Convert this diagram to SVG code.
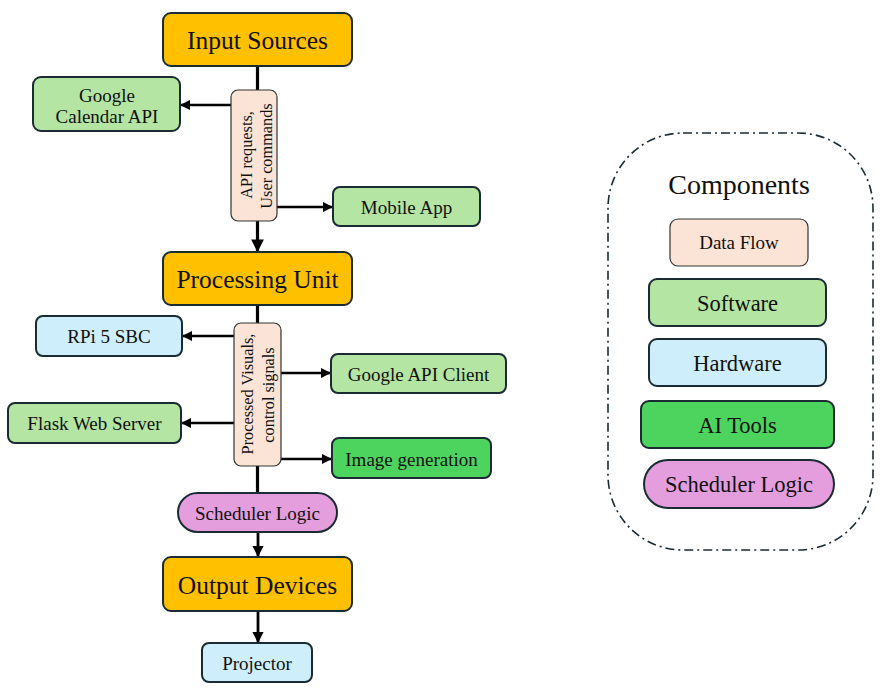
<svg xmlns="http://www.w3.org/2000/svg" width="888" height="692" viewBox="0 0 888 692">
<defs>
<marker id="ah" viewBox="0 0 10 10" refX="9" refY="5" markerWidth="4" markerHeight="4" orient="auto" markerUnits="strokeWidth">
<path d="M0,0 L10,5 L0,10 Z" fill="#000"/>
</marker>
<style>
text{font-family:"Liberation Serif","Times New Roman",serif;fill:#111;text-anchor:middle;dominant-baseline:central}
.box{stroke:#1b2b33;stroke-width:2}
.main{fill:#FFC000}
.sw{fill:#B4E5A2}
.hw{fill:#CDEEFA}
.ai{fill:#4CD45E}
.sch{fill:#E49EDD}
.df{fill:#FBE3D6;stroke:#333;stroke-width:1.2}
.big{font-size:25.5px}
.mid{font-size:19px}
.rot{font-size:16.3px}
.leg{font-size:22.5px}
.conn{stroke:#000;fill:none}
</style>
</defs>
<rect width="888" height="692" fill="#fff"/>

<g id="connectors">
<line class="conn" x1="257.5" y1="66" x2="257.5" y2="90" stroke-width="3.2"/>
<line class="conn" x1="257.5" y1="221" x2="257.5" y2="251" stroke-width="3.2" marker-end="url(#ah)"/>
<line class="conn" x1="231" y1="105" x2="181" y2="105" stroke-width="2.6" marker-end="url(#ah)"/>
<line class="conn" x1="277" y1="207" x2="332" y2="207" stroke-width="2.6" marker-end="url(#ah)"/>
<line class="conn" x1="257.5" y1="305" x2="257.5" y2="323" stroke-width="3.2"/>
<line class="conn" x1="234" y1="336" x2="183" y2="336" stroke-width="2.6" marker-end="url(#ah)"/>
<line class="conn" x1="281" y1="373" x2="330" y2="373" stroke-width="2.6" marker-end="url(#ah)"/>
<line class="conn" x1="234" y1="423" x2="182" y2="423" stroke-width="2.6" marker-end="url(#ah)"/>
<line class="conn" x1="281" y1="459" x2="331" y2="459" stroke-width="2.6" marker-end="url(#ah)"/>
<line class="conn" x1="257.5" y1="466" x2="257.5" y2="493" stroke-width="3.2"/>
<line class="conn" x1="258" y1="532" x2="258" y2="556" stroke-width="2.8" marker-end="url(#ah)"/>
<line class="conn" x1="258" y1="611" x2="258" y2="642" stroke-width="2.8" marker-end="url(#ah)"/>
</g>

<g id="input-sources">
<rect class="box main" x="163" y="13" width="189" height="53" rx="8"/>
<text class="big" x="257.5" y="40">Input Sources</text>
</g>
<g id="google-calendar-api">
<rect class="box sw" x="33" y="77" width="147" height="54" rx="8"/>
<text class="mid" x="107" y="95">Google</text>
<text class="mid" x="107" y="116">Calendar API</text>
</g>
<g id="data-flow-1">
<rect class="df" x="231" y="90" width="46" height="131" rx="7"/>
<text class="rot" transform="translate(246,155) rotate(-90)">API requests,</text>
<text class="rot" transform="translate(266,156) rotate(-90)">User commands</text>
</g>
<g id="mobile-app">
<rect class="box sw" x="333" y="187" width="147" height="39" rx="7"/>
<text class="mid" x="406.5" y="207">Mobile App</text>
</g>

<g id="processing-unit">
<rect class="box main" x="163" y="252" width="189" height="53" rx="8"/>
<text class="big" x="257.5" y="279">Processing Unit</text>
</g>
<g id="rpi-5-sbc">
<rect class="box hw" x="36" y="316" width="146" height="40" rx="7"/>
<text class="mid" x="109" y="336">RPi 5 SBC</text>
</g>
<g id="data-flow-2">
<rect class="df" x="234" y="323" width="47" height="143" rx="7"/>
<text class="rot" transform="translate(247,394) rotate(-90)">Processed Visuals,</text>
<text class="rot" transform="translate(268,395) rotate(-90)">control signals</text>
</g>
<g id="google-api-client">
<rect class="box sw" x="331" y="354" width="175" height="39" rx="7"/>
<text class="mid" x="418.5" y="374">Google API Client</text>
</g>
<g id="flask-web-server">
<rect class="box sw" x="8" y="403" width="173" height="40" rx="7"/>
<text class="mid" x="94.5" y="423">Flask Web Server</text>
</g>
<g id="image-generation">
<rect class="box ai" x="332" y="438" width="159" height="40" rx="7"/>
<text class="mid" x="411.5" y="459">Image generation</text>
</g>

<g id="scheduler-logic">
<rect class="box sch" x="178" y="493" width="159" height="39" rx="19.5"/>
<text class="mid" x="257.5" y="513">Scheduler Logic</text>
</g>
<g id="output-devices">
<rect class="box main" x="163" y="557" width="189" height="54" rx="8"/>
<text class="big" x="257.5" y="585">Output Devices</text>
</g>
<g id="projector">
<rect class="box hw" x="202" y="643" width="110" height="39" rx="7"/>
<text class="mid" x="257" y="663">Projector</text>
</g>

<g id="legend">
<rect x="608" y="133" width="265" height="417" rx="75" fill="none" stroke="#1b2b33" stroke-width="1.6" stroke-dasharray="9,4,2,4"/>
<text x="739" y="184" font-size="28px">Components</text>
<g id="legend-data-flow">
<rect class="df" x="670" y="219" width="138" height="47" rx="8"/>
<text x="739" y="242" font-size="19px">Data Flow</text>
</g>
<g id="legend-software">
<rect class="box sw" x="649" y="279" width="177" height="47" rx="8"/>
<text class="leg" x="737.5" y="303">Software</text>
</g>
<g id="legend-hardware">
<rect class="box hw" x="649" y="339" width="177" height="47" rx="8"/>
<text class="leg" x="737.5" y="363">Hardware</text>
</g>
<g id="legend-ai-tools">
<rect class="box ai" x="641" y="401" width="193" height="47" rx="8"/>
<text class="leg" x="737.5" y="425">AI Tools</text>
</g>
<g id="legend-scheduler-logic">
<rect class="box sch" x="644" y="460" width="190" height="48" rx="24"/>
<text class="leg" x="739" y="484">Scheduler Logic</text>
</g>
</g>
</svg>
